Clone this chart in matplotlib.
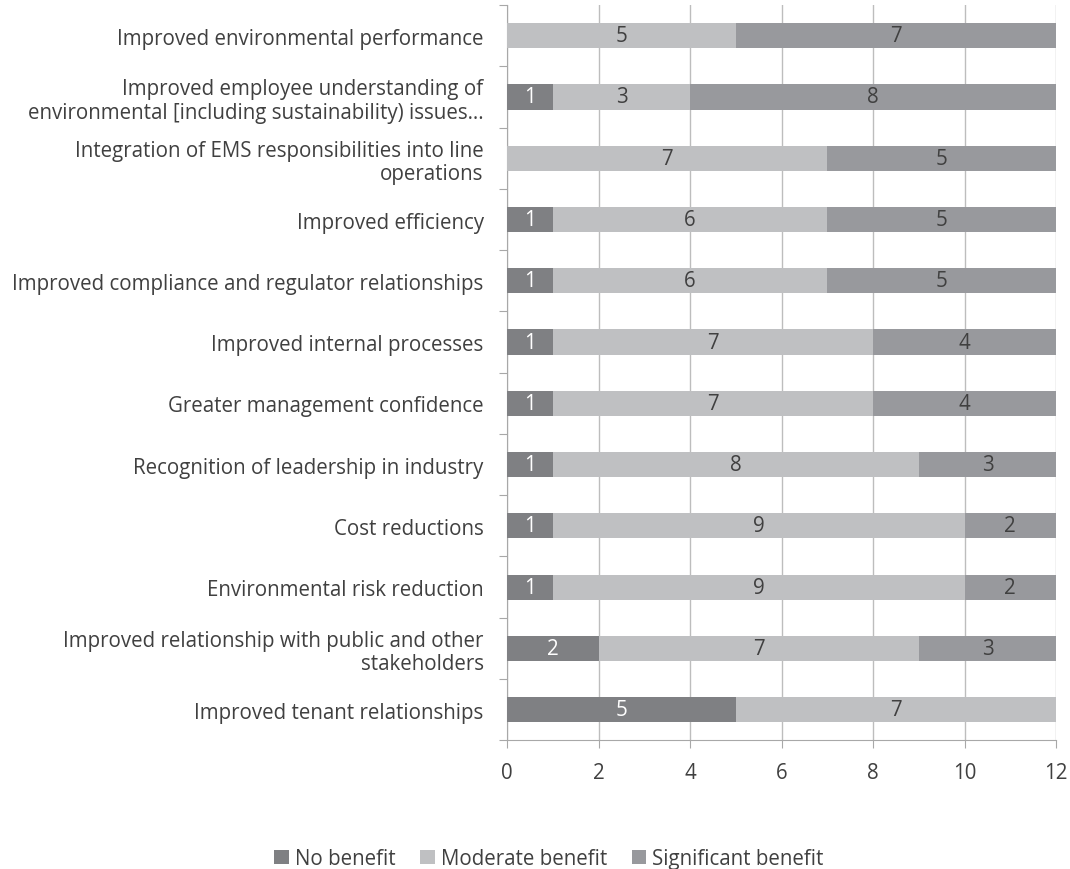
import numpy as np
import matplotlib.pyplot as plt
from matplotlib.patches import Patch

plt.rcParams['font.family'] = ['Open Sans', 'DejaVu Sans']

# categories listed top to bottom
categories = [
    "Improved environmental performance",
    "Improved employee understanding of\nenvironmental [including sustainability) issues\u2026",
    "Integration of EMS responsibilities into line\noperations",
    "Improved efficiency",
    "Improved compliance and regulator relationships",
    "Improved internal processes",
    "Greater management confidence",
    "Recognition of leadership in industry",
    "Cost reductions",
    "Environmental risk reduction",
    "Improved relationship with public and other\nstakeholders",
    "Improved tenant relationships",
]
no_benefit = [0, 1, 0, 1, 1, 1, 1, 1, 1, 1, 2, 5]
moderate = [5, 3, 7, 6, 6, 7, 7, 8, 9, 9, 7, 7]
significant = [7, 8, 5, 5, 5, 4, 4, 3, 2, 2, 3, 0]

series = ["No benefit", "Moderate benefit", "Significant benefit"]
colors = ["#7f8083", "#bfc0c2", "#98999d"]
label_colors = ["white", "#404040", "#404040"]
text_color = "#404040"
fs = 14.8

fig = plt.figure(figsize=(10.7, 8.7), dpi=100)
ax = fig.add_axes([0.474, 0.148, 0.513, 0.845])

y = np.arange(len(categories))
left = np.zeros(len(categories))
for vals, col, lc in zip([no_benefit, moderate, significant], colors, label_colors):
    vals = np.array(vals, dtype=float)
    ax.barh(y, vals, left=left, height=0.41, color=col, zorder=3)
    for yi, (l, v) in enumerate(zip(left, vals)):
        if v > 0:
            ax.text(l + v / 2, yi, f"{int(v)}", ha='center', va='center',
                    color=lc, fontsize=fs, zorder=4)
    left += vals

ax.set_xlim(0, 12)
ax.set_ylim(len(categories) - 0.5, -0.5)
ax.set_xticks(range(0, 13, 2))
ax.tick_params(axis='x', colors='#a8a8a8', labelcolor=text_color, labelsize=fs,
               length=6, pad=10)
ax.xaxis.grid(True, color='#bdbdbd', linewidth=1, zorder=0)

# category labels between tick marks on the boundaries
ax.set_yticks(np.arange(len(categories) + 1) - 0.5)
ax.set_yticklabels([])
ax.set_yticks(y, minor=True)
ax.set_yticklabels(categories, minor=True, fontsize=fs, color=text_color)
ax.tick_params(axis='y', which='minor', length=0, pad=17)
ax.tick_params(axis='y', which='major', length=6, color='#a8a8a8')
for lab in ax.get_yticklabels(minor=True):
    lab.set_horizontalalignment('right')
    lab.set_multialignment('right')
    lab.set_linespacing(1.15)

for s in ['top', 'right']:
    ax.spines[s].set_visible(False)
for s in ['left', 'bottom']:
    ax.spines[s].set_color('#a8a8a8')

handles = [Patch(facecolor=c, edgecolor='none') for c in colors]
fig.legend(handles, series, loc='center', bbox_to_anchor=(0.513, 0.012), ncol=3,
           frameon=False, fontsize=fs, handlelength=0.7, handleheight=0.7,
           handletextpad=0.3, columnspacing=1.2, labelcolor=text_color)

fig.savefig("out.png", dpi=100)
